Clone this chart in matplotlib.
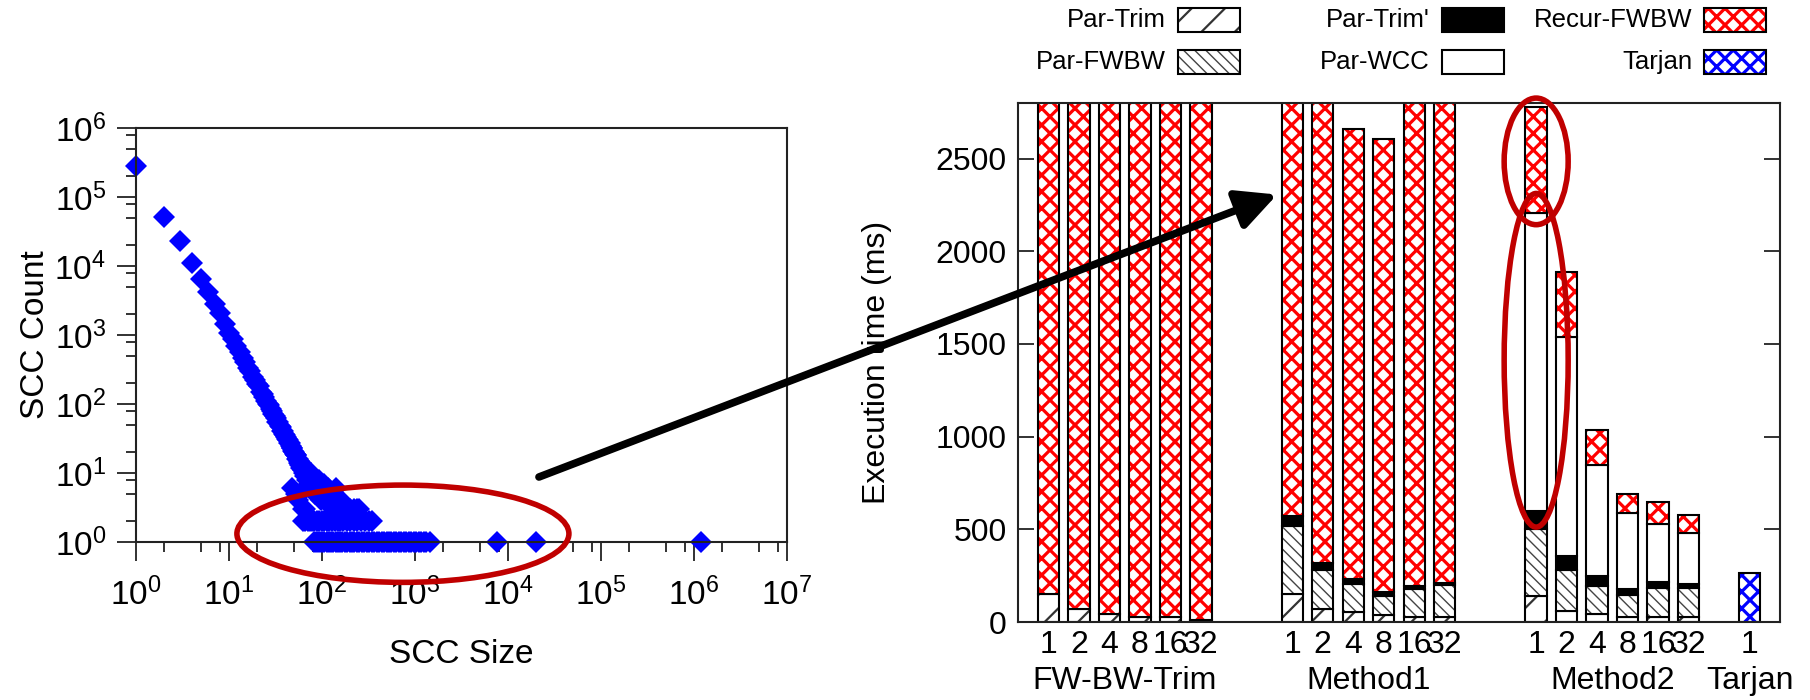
import numpy as np
import matplotlib
matplotlib.use('Agg')
import matplotlib.pyplot as plt
from matplotlib.patches import Ellipse, Rectangle, ConnectionPatch
from matplotlib.ticker import LogLocator, NullFormatter

plt.rcParams['font.family'] = ['Liberation Sans', 'DejaVu Sans']
plt.rcParams['mathtext.default'] = 'regular'

# -- SCC size distribution (left panel)
scc_size = [1, 2, 3, 4, 5, 6, 7, 8, 9, 10,
            11, 12, 13, 14, 15, 16, 17, 18, 19, 20,
            21, 22, 23, 24, 25, 26, 27, 28, 29, 30,
            31, 32, 33, 34, 35, 36, 37, 38, 39, 40,
            41, 42, 43, 44, 45, 46, 47, 48, 49, 50,
            51, 52, 53, 54, 55, 56, 57, 58, 59, 60,
            61, 62, 63, 64, 65, 66, 67, 68, 69, 70]
scc_count = [280000, 52000, 23000, 11000, 6500, 4200, 2800, 2050, 1450, 1080,
             870, 690, 560, 470, 400, 330, 300, 250, 225, 195,
             180, 150, 140, 128, 112, 100, 96, 84, 80, 72,
             66, 62, 55, 54, 48, 46, 41, 40, 37, 35,
             33, 31, 30, 27, 27, 25, 23, 23, 21, 20,
             19, 18, 18, 16, 16, 14, 15, 13, 14, 12,
             13, 11, 12, 10, 11, 9, 10, 9, 8, 9]

# sparse tail: a few counts per size
tail_size = [48, 52, 55, 58, 62, 65, 72, 74, 75, 76, 78, 80, 82, 84, 86, 88,
             90, 92, 95, 98, 100, 104, 108, 110, 115, 120, 125, 130, 135, 140,
             150, 160, 170, 180, 190, 200, 220, 240, 250]
tail_count = [6, 5, 4, 5, 3, 3, 7, 8, 6, 10, 7, 6, 8, 5, 7, 6,
              5, 8, 6, 4, 5, 7, 4, 5, 6, 4, 5, 3, 4, 6,
              3, 4, 3, 3, 3, 3, 3, 3, 3]

two_size = [63, 66, 70, 74, 78, 83, 88, 93, 99, 105, 112, 120, 128, 137,
            147, 158, 170, 185, 200, 220, 240, 265, 290, 320, 345]

one_size = [82, 86, 90, 95, 100, 106, 112, 118, 125, 132, 140, 148, 157, 166,
            176, 187, 198, 210, 223, 237, 252, 268, 285, 303, 322, 342, 364,
            387, 411, 437, 465, 494, 525, 558, 593, 630, 670, 712, 757, 805,
            856, 910, 967, 1028, 1093, 1160, 1240, 1320, 1450,
            7700, 20000, 1200000]

# -- execution time breakdown (right panel), ms
threads = ['1', '2', '4', '8', '16', '32']
groups = ['FW-BW-Trim', 'Method1', 'Method2']

par_trim = [150, 72, 43, 25, 25, 13,
            150, 72, 52, 36, 25, 25,
            141, 59, 45, 25, 25, 25]
par_fwbw = [0, 0, 0, 0, 0, 0,
            367, 211, 155, 103, 152, 173,
            360, 224, 150, 123, 161, 161]
par_trim2 = [0, 0, 0, 0, 0, 0,
             56, 36, 27, 23, 16, 13,
             99, 74, 54, 32, 30, 21]
par_wcc = [0, 0, 0, 0, 0, 0,
           0, 0, 0, 0, 0, 0,
           1605, 1182, 596, 407, 312, 274]
# total runtime; 3000 marks runs that go off the top of the scale
total_time = [3000, 3000, 3000, 3000, 3000, 3000,
              3000, 3000, 2662, 2606, 3000, 3000,
              2777, 1888, 1038, 688, 645, 577]
tarjan_time = [265]

W, H = 1810, 700
fig = plt.figure(figsize=(W / 100, H / 100), dpi=100)

def fx(px):
    return px / W

def fy(py):
    return 1 - py / H

# ---------------- left: SCC size distribution
ax1 = fig.add_axes([fx(136), fy(542), fx(787) - fx(136), fy(128) - fy(542)])
mk = dict(ls='none', marker='D', ms=11.5, mew=0, color='#0000ff', clip_on=False)
ax1.plot(scc_size, scc_count, **mk)
ax1.plot(tail_size, tail_count, **mk)
ax1.plot(two_size, [2] * len(two_size), **mk)
ax1.plot(one_size, [1] * len(one_size), **mk)

ax1.set_xscale('log')
ax1.set_yscale('log')
ax1.set_xlim(1, 1e7)
ax1.set_ylim(1, 1e6)
for a in (ax1.xaxis, ax1.yaxis):
    a.set_major_locator(LogLocator(base=10, numticks=20))
    a.set_minor_locator(LogLocator(base=10, subs=(2, 5, 8), numticks=20))
    a.set_minor_formatter(NullFormatter())
ax1.tick_params(which='major', direction='out', length=13.5, width=1.3,
                labelsize=24, color='#222222')
ax1.tick_params(which='minor', direction='out', length=7, width=1.3,
                color='#222222')
ax1.tick_params(axis='x', which='major', pad=12)
ax1.tick_params(axis='y', which='major', pad=8)
for s in ax1.spines.values():
    s.set_linewidth(1.5)
    s.set_color('#222222')
ax1.set_xlabel('SCC Size', fontsize=24)
ax1.set_ylabel('SCC Count', fontsize=24)
ax1.xaxis.set_label_coords(0.5, -0.235)
ax1.yaxis.set_label_coords(-0.13, 0.5)

# ---------------- right: stacked execution time
ax2 = fig.add_axes([fx(1018), fy(622), fx(1780) - fx(1018), fy(103) - fy(622)])
pos = np.array([g * 8 + i for g in range(len(groups)) for i in range(len(threads))])
tarjan_pos = np.array([pos[-1] + 2])

par_trim = np.array(par_trim, float)
par_fwbw = np.array(par_fwbw, float)
par_trim2 = np.array(par_trim2, float)
par_wcc = np.array(par_wcc, float)
recur = np.array(total_time, float) - par_trim - par_fwbw - par_trim2 - par_wcc

styles = {
    'Par-Trim': dict(fc='white', hatch='/', hc='#333333', hlw=1.6),
    'Par-FWBW': dict(fc='white', hatch='\\\\\\', hc='#444444', hlw=1.0),
    "Par-Trim'": dict(fc='black', hatch=None, hc=None, hlw=1.0),
    'Par-WCC': dict(fc='white', hatch=None, hc=None, hlw=1.0),
    'Recur-FWBW': dict(fc='white', hatch='xx', hc='#ff0000', hlw=2.3),
    'Tarjan': dict(fc='white', hatch='xx', hc='#0000ff', hlw=2.3),
}
bw = 0.7

def draw_layer(x, h, b, st):
    with plt.rc_context({'hatch.linewidth': st['hlw']}):
        if st['hatch']:
            bars = ax2.bar(x, h, bw, bottom=b, color=st['fc'], edgecolor=st['hc'],
                           hatch=st['hatch'], linewidth=0)
            for p in bars:
                if hasattr(p, 'set_hatch_linewidth'):
                    p.set_hatch_linewidth(st['hlw'])
        else:
            ax2.bar(x, h, bw, bottom=b, color=st['fc'], linewidth=0)
    ax2.bar(x, h, bw, bottom=b, fill=False, edgecolor='black', linewidth=1.5)

bottom = np.zeros(len(pos))
for name, h in [('Par-Trim', par_trim), ('Par-FWBW', par_fwbw),
                ("Par-Trim'", par_trim2), ('Par-WCC', par_wcc),
                ('Recur-FWBW', recur)]:
    m = h > 0
    draw_layer(pos[m], h[m], bottom[m], styles[name])
    bottom = bottom + h
draw_layer(tarjan_pos, tarjan_time, 0, styles['Tarjan'])

ax2.set_xlim(-1, 24)
ax2.set_ylim(0, 2800)
ax2.set_yticks([0, 500, 1000, 1500, 2000, 2500])
ax2.set_xticks(np.concatenate([pos, tarjan_pos]))
ax2.set_xticklabels(threads * len(groups) + ['1'])
ax2.tick_params(axis='y', direction='in', length=11.5, width=1.3, labelsize=23,
                right=True, pad=8, color='#222222')
ax2.tick_params(axis='x', length=0, labelsize=23, pad=6)
for s in ax2.spines.values():
    s.set_linewidth(1.5)
    s.set_color('#222222')
ax2.set_ylabel('Execution time (ms)', fontsize=23)
ax2.yaxis.set_label_coords(-0.165, 0.5)

group_x = [pos[g * 6: g * 6 + 6].mean() for g in range(len(groups))] + [tarjan_pos[0]]
for gx, name in zip(group_x, groups + ['Tarjan']):
    ax2.text(gx, -0.114, name, transform=ax2.get_xaxis_transform(),
             ha='center', va='center', fontsize=23)

# ---------------- legend above the bars
legend_rows = [['Par-Trim', "Par-Trim'", 'Recur-FWBW'],
               ['Par-FWBW', 'Par-WCC', 'Tarjan']]
col_x = [1178, 1442, 1704]
row_y = [20, 62]
sw, sh = 62, 24
for r, row in enumerate(legend_rows):
    for c, name in enumerate(row):
        st = styles[name]
        x0, y0 = fx(col_x[c]), fy(row_y[r] + sh / 2)
        wf, hf = sw / W, sh / H
        with plt.rc_context({'hatch.linewidth': st['hlw']}):
            if st['hatch']:
                p = Rectangle((x0, y0), wf, hf, transform=fig.transFigure,
                              facecolor=st['fc'], edgecolor=st['hc'],
                              hatch=st['hatch'], linewidth=0)
                if hasattr(p, 'set_hatch_linewidth'):
                    p.set_hatch_linewidth(st['hlw'])
            else:
                p = Rectangle((x0, y0), wf, hf, transform=fig.transFigure,
                              facecolor=st['fc'], linewidth=0)
        fig.add_artist(p)
        fig.add_artist(Rectangle((x0, y0), wf, hf, transform=fig.transFigure,
                                 fill=False, edgecolor='black', linewidth=1.5))
        fig.text(fx(col_x[c] - 12), fy(row_y[r]), name, ha='right', va='center',
                 fontsize=18.5)

# ---------------- annotations
red = '#c00000'
ax1.add_patch(Ellipse((0.41, 0.02), 0.51, 0.235, transform=ax1.transAxes,
                      fill=False, edgecolor=red, linewidth=4, clip_on=False,
                      zorder=5))
ax2.add_patch(Ellipse((16, 2485), 2.1, 683, fill=False, edgecolor=red,
                      linewidth=4, clip_on=False, zorder=5))
ax2.add_patch(Ellipse((16, 1412), 2.1, 1800, fill=False, edgecolor=red,
                      linewidth=4, clip_on=False, zorder=5))

arrow = ConnectionPatch(xyA=(0.619, 0.157), coordsA=ax1.transAxes,
                        xyB=(7.5, 2306), coordsB=ax2.transData,
                        arrowstyle='-|>,head_length=0.6,head_width=0.3',
                        mutation_scale=40, linewidth=5.5, color='black',
                        zorder=10)
fig.add_artist(arrow)

fig.savefig('out.png', dpi=100)
